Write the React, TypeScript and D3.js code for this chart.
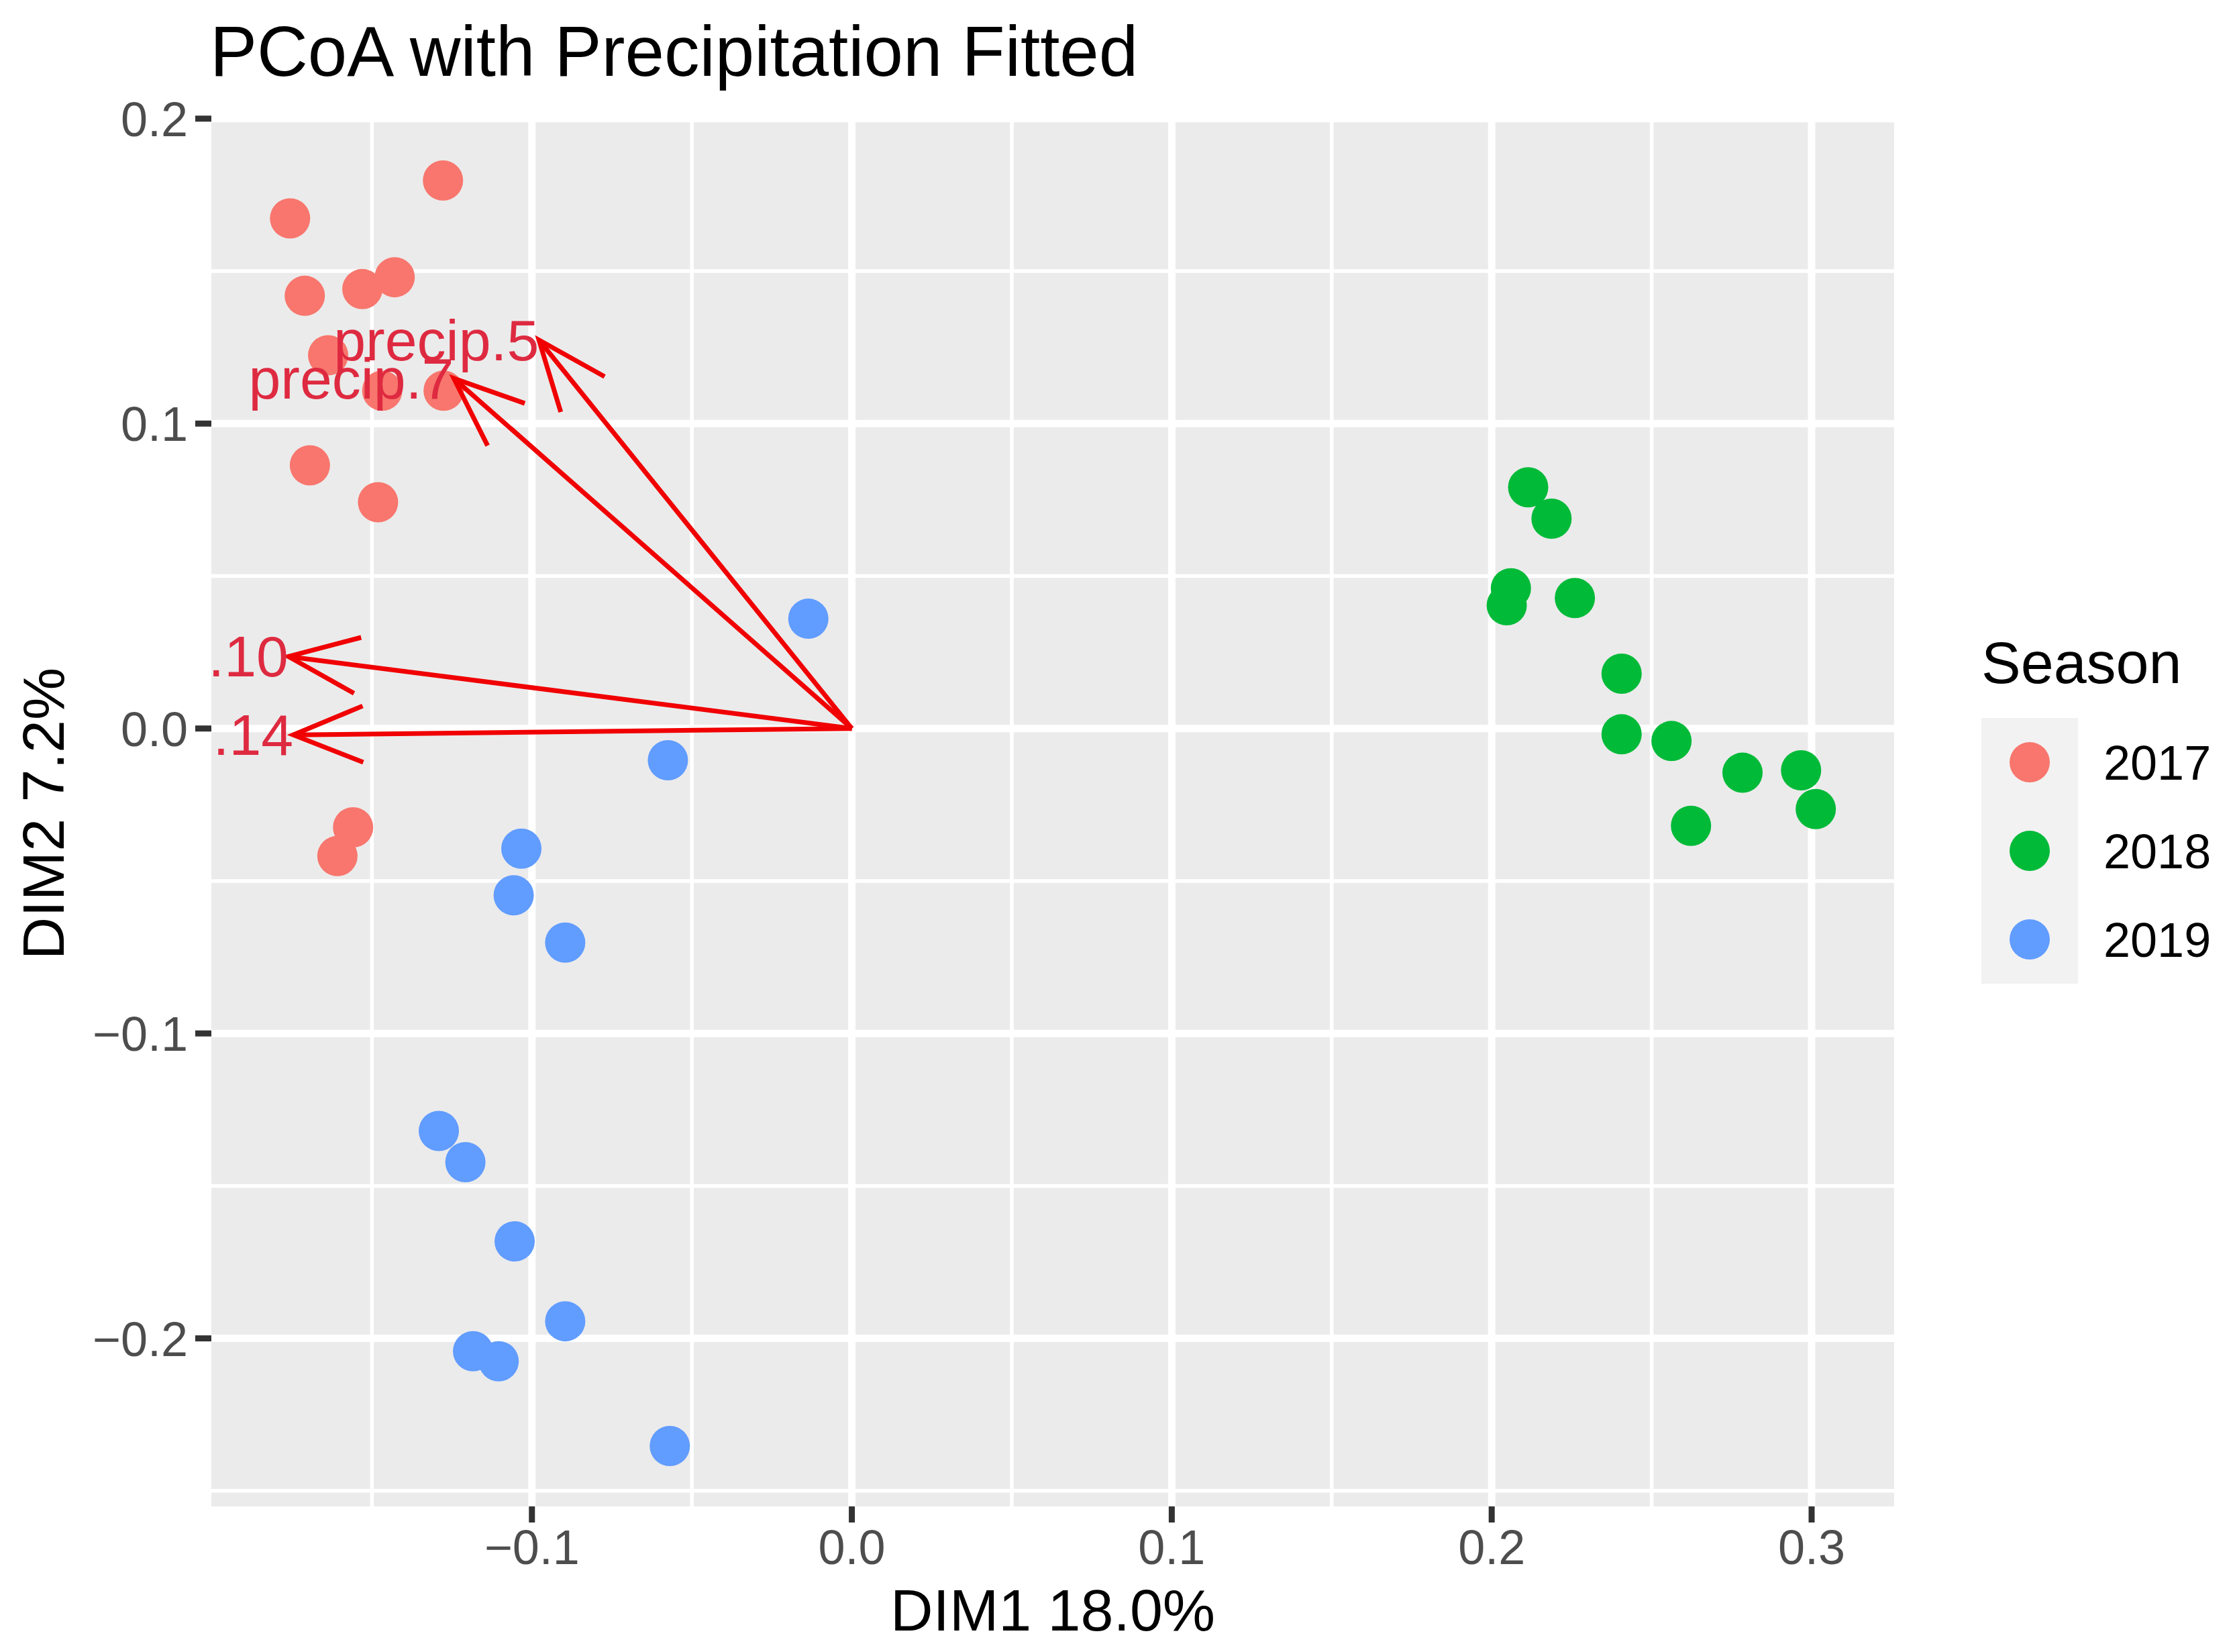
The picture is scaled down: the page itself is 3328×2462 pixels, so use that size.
import React from "react";
import * as d3 from "d3";

const seasons = ["2017", "2018", "2019"];
const seasonColors = ["#F8766D", "#00BA38", "#619CFF"];

const dim1_2017 = [-0.1278, -0.1756, -0.171, -0.153, -0.1429, -0.1637, -0.1468, -0.1276, -0.1694, -0.1481, -0.1559, -0.1608];
const dim2_2017 = [0.1797, 0.1673, 0.1419, 0.1441, 0.148, 0.1224, 0.1108, 0.1108, 0.0863, 0.0742, -0.0324, -0.0418];

const dim1_2018 = [0.2114, 0.2187, 0.206, 0.2047, 0.226, 0.2406, 0.2406, 0.2562, 0.2784, 0.2967, 0.3013, 0.2623];
const dim2_2018 = [0.0791, 0.0688, 0.046, 0.0404, 0.0428, 0.018, -0.0019, -0.0041, -0.0145, -0.0137, -0.0264, -0.0319];

const dim1_2019 = [-0.0136, -0.0575, -0.1033, -0.1057, -0.0896, -0.1291, -0.1208, -0.1054, -0.0896, -0.1184, -0.1104, -0.0569];
const dim2_2019 = [0.036, -0.0104, -0.0394, -0.0547, -0.0702, -0.132, -0.1422, -0.1682, -0.1944, -0.2042, -0.2075, -0.2353];

const vectorLabels = ["precip.5", "precip.7", "precip.10", "precip.14"];
const vectorDim1 = [-0.0978, -0.1244, -0.1761, -0.1746];
const vectorDim2 = [0.1274, 0.1148, 0.0236, -0.0021];

const xTicks = [-0.1, 0, 0.1, 0.2, 0.3];
const xMinor = [-0.15, -0.05, 0.05, 0.15, 0.25];
const yTicks = [-0.2, -0.1, 0, 0.1, 0.2];
const yMinor = [-0.25, -0.15, -0.05, 0.05, 0.15];

const titleText = "PCoA with Precipitation Fitted";
const xTitle = "DIM1 18.0%";
const yTitle = "DIM2 7.2%";
const legendTitle = "Season";

const FONT = "'Liberation Sans', Arial, Helvetica, sans-serif";

export default function App() {
  const W = 3328;
  const H = 2462;
  const P = { l: 315, r: 2823, t: 180, b: 2245 };
  const x = d3.scaleLinear().domain([-0.2002, 0.3258]).range([P.l, P.r]);
  const y = d3.scaleLinear().domain([-0.2551, 0.1993]).range([P.b, P.t]);
  const fmt = d3.format(".1f");

  const groups = [
    { xs: dim1_2017, ys: dim2_2017 },
    { xs: dim1_2018, ys: dim2_2018 },
    { xs: dim1_2019, ys: dim2_2019 },
  ];

  const arrowLen = 112;
  const arrowAng = (22 * Math.PI) / 180;
  const line = d3.line();

  const arrows = vectorLabels.map((lab, i) => {
    const x0 = x(0), y0 = y(0);
    const x1 = x(vectorDim1[i]), y1 = y(vectorDim2[i]);
    const dx = x0 - x1, dy = y0 - y1;
    const len = Math.hypot(dx, dy);
    const ux = dx / len, uy = dy / len;
    const rot = (a) => [
      x1 + arrowLen * (ux * Math.cos(a) - uy * Math.sin(a)),
      y1 + arrowLen * (ux * Math.sin(a) + uy * Math.cos(a)),
    ];
    const a1 = rot(arrowAng), a2 = rot(-arrowAng);
    return { lab, x0, y0, x1, y1, head: line([a1 as [number, number], [x1, y1], a2 as [number, number]]) };
  });

  return (
    <svg width={W} height={H} style={{ position: "absolute", left: 0, top: 0, background: "#fff" }} fontFamily={FONT}>
      <defs>
        <clipPath id="panelClip">
          <rect x={P.l} y={P.t} width={P.r - P.l} height={P.b - P.t} />
        </clipPath>
      </defs>
      <rect x={0} y={0} width={W} height={H} fill="#ffffff" />
      <text x={313} y={113} fontSize={105} fill="#000">{titleText}</text>

      <rect x={P.l} y={P.t} width={P.r - P.l} height={P.b - P.t} fill="#EBEBEB" />
      <g clipPath="url(#panelClip)">
        {xMinor.map((v) => (
          <line key={"xm" + v} x1={x(v)} x2={x(v)} y1={P.t} y2={P.b} stroke="#fff" strokeWidth={5.5} />
        ))}
        {yMinor.map((v) => (
          <line key={"ym" + v} x1={P.l} x2={P.r} y1={y(v)} y2={y(v)} stroke="#fff" strokeWidth={5.5} />
        ))}
        {xTicks.map((v) => (
          <line key={"xM" + v} x1={x(v)} x2={x(v)} y1={P.t} y2={P.b} stroke="#fff" strokeWidth={11} />
        ))}
        {yTicks.map((v) => (
          <line key={"yM" + v} x1={P.l} x2={P.r} y1={y(v)} y2={y(v)} stroke="#fff" strokeWidth={11} />
        ))}
        {groups.map((g, gi) =>
          g.xs.map((xv, i) => (
            <circle key={gi + "-" + i} cx={x(xv)} cy={y(g.ys[i])} r={30} fill={seasonColors[gi]} />
          ))
        )}
        {arrows.map((a) => (
          <g key={a.lab}>
            <line x1={a.x0} y1={a.y0} x2={a.x1} y2={a.y1} stroke="#F00000" strokeWidth={7} />
            <path d={a.head || ""} fill="none" stroke="#F00000" strokeWidth={7} strokeLinejoin="miter" />
          </g>
        ))}
        {arrows.map((a) => (
          <text key={"t" + a.lab} x={a.x1} y={a.y1 + 30} fontSize={86} textAnchor="end" fill="#DE2A40">
            {a.lab}
          </text>
        ))}
      </g>

      {/* axes */}
      {yTicks.map((v) => (
        <g key={"yt" + v}>
          <line x1={P.l - 24} x2={P.l} y1={y(v)} y2={y(v)} stroke="#333333" strokeWidth={9} />
          <text x={280} y={y(v) + 26} fontSize={72} textAnchor="end" fill="#4D4D4D">{fmt(v)}</text>
        </g>
      ))}
      {xTicks.map((v) => (
        <g key={"xt" + v}>
          <line x1={x(v)} x2={x(v)} y1={P.b} y2={P.b + 24} stroke="#333333" strokeWidth={9} />
          <text x={x(v)} y={2331} fontSize={72} textAnchor="middle" fill="#4D4D4D">{fmt(v)}</text>
        </g>
      ))}
      <text x={(P.l + P.r) / 2} y={2430} fontSize={88} textAnchor="middle" fill="#000">{xTitle}</text>
      <text transform={`translate(95, ${(P.t + P.b) / 2}) rotate(-90)`} fontSize={88} textAnchor="middle" fill="#000">{yTitle}</text>

      {/* legend */}
      <text x={2953} y={1018} fontSize={88} fill="#000">{legendTitle}</text>
      {seasons.map((s, i) => (
        <g key={s}>
          <rect x={2953} y={1070 + i * 132} width={144} height={132} fill="#F2F2F2" />
          <circle cx={3025} cy={1136 + i * 132} r={30} fill={seasonColors[i]} />
          <text x={3135} y={1162 + i * 132} fontSize={72} fill="#000">{s}</text>
        </g>
      ))}
    </svg>
  );
}
